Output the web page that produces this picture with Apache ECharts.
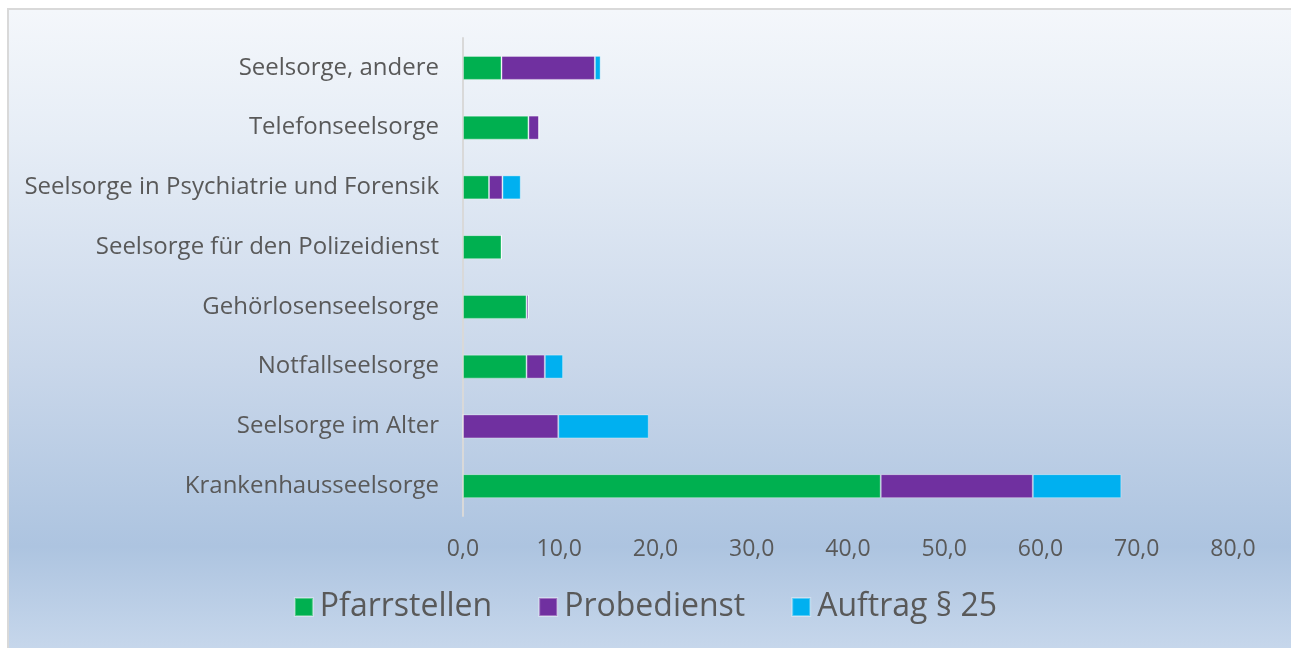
<!DOCTYPE html>
<html>
<head>
<meta charset="utf-8">
<script src="https://cdn.jsdelivr.net/npm/echarts@6/dist/echarts.min.js"></script>
<style>
  html, body { margin: 0; padding: 0; background: #fff; }
  #frame {
    position: absolute; left: 7px; top: 8px; width: 1290px; height: 650px;
    border: 2px solid #d9d9d9; box-sizing: border-box;
    background: linear-gradient(to bottom, #f4f7fb 0%, #e6edf6 20%, #c9d7ea 55%, #adc4e0 83%, #c8d8ec 100%);
  }
  #main { position: absolute; left: 0; top: 0; width: 1291px; height: 648px; }
</style>
</head>
<body>
<div id="frame"></div>
<div id="main"></div>
<script>
// Kategorien von unten nach oben
const categories = [
  'Krankenhausseelsorge',
  'Seelsorge im Alter',
  'Notfallseelsorge',
  'Gehörlosenseelsorge',
  'Seelsorge für den Polizeidienst',
  'Seelsorge in Psychiatrie und Forensik',
  'Telefonseelsorge',
  'Seelsorge, andere'
]
const pfarrstellen = [43.4, 0, 6.6, 6.6, 4.0, 2.7, 6.8, 4.0]
const probedienst = [15.8, 9.9, 1.9, 0.2, 0, 1.4, 1.1, 9.7]
const auftrag25 = [9.2, 9.4, 1.9, 0, 0, 1.9, 0, 0.6]
const xTicks = [0, 10, 20, 30, 40, 50, 60, 70, 80]

const labelFont = 'Open Sans'
const grey = '#595959'

function bar(name, data, color) {
  return {
    name: name,
    type: 'bar',
    stack: 'total',
    data: data,
    barWidth: 24,
    itemStyle: { color: color, borderColor: 'rgba(255,255,255,0.35)', borderWidth: 1 },
    emphasis: { disabled: true }
  }
}

const chart = echarts.init(document.getElementById('main'))
chart.setOption({
  backgroundColor: 'transparent',
  animation: false,
  grid: { left: 463, right: 58, top: 38, bottom: 132, containLabel: false },
  legend: {
    bottom: 20,
    left: 'center',
    itemWidth: 18,
    itemHeight: 18,
    itemGap: 46,
    icon: 'rect',
    textStyle: { fontFamily: labelFont, fontSize: 32, color: grey, padding: [0, 0, 0, 2] },
    data: ['Pfarrstellen', 'Probedienst', 'Auftrag § 25']
  },
  xAxis: {
    type: 'value',
    min: xTicks[0],
    max: xTicks[xTicks.length - 1],
    interval: 10,
    axisLine: { show: false },
    axisTick: { show: false },
    splitLine: { show: false },
    axisLabel: {
      margin: 22,
      fontFamily: labelFont,
      fontSize: 23,
      color: grey,
      formatter: v => v.toFixed(1).replace('.', ',')
    }
  },
  yAxis: {
    type: 'category',
    data: categories,
    axisLine: { show: true, lineStyle: { color: '#d9d9d9', width: 2 } },
    axisTick: { show: false },
    axisLabel: { margin: 24, fontFamily: labelFont, fontSize: 24, color: grey }
  },
  series: [
    bar('Pfarrstellen', pfarrstellen, '#00b050'),
    bar('Probedienst', probedienst, '#7030a0'),
    bar('Auftrag § 25', auftrag25, '#00b0f0')
  ]
})
</script>
</body>
</html>
